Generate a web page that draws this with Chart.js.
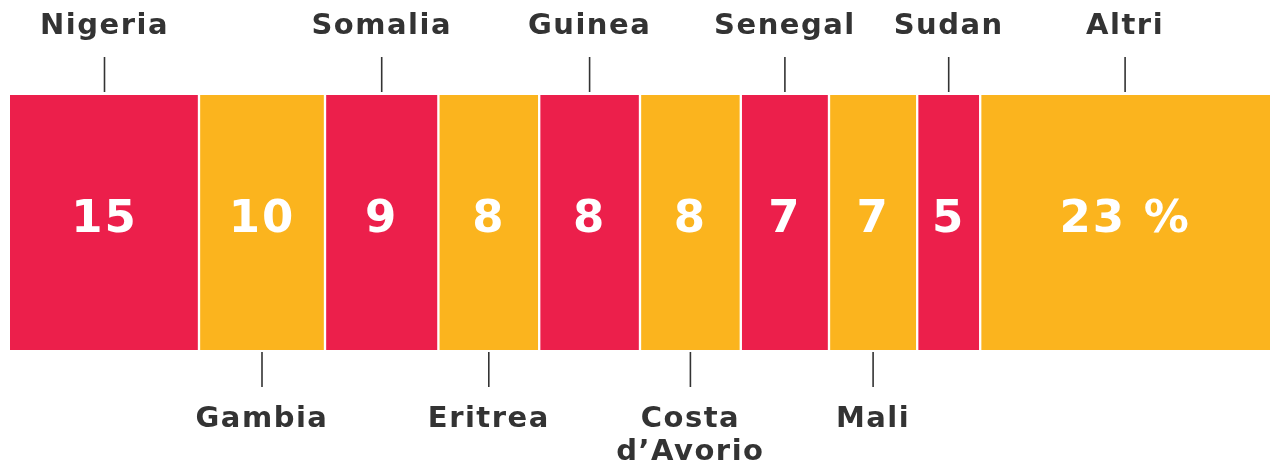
<!DOCTYPE html>
<html>
<head>
<meta charset="utf-8">
<script src="https://cdn.jsdelivr.net/npm/chart.js@4.4.1/dist/chart.umd.min.js"></script>
<style>
  html, body { margin: 0; padding: 0; background: #ffffff; }
  #wrap { width: 1270px; height: 465px; position: relative; }
</style>
</head>
<body>
<div id="wrap"><canvas id="c" width="1270" height="465"></canvas></div>
<script>
const countries = ["Nigeria", "Gambia", "Somalia", "Eritrea", "Guinea", "Costa d\u2019Avorio", "Senegal", "Mali", "Sudan", "Altri"];
const labelLines = [["Nigeria"], ["Gambia"], ["Somalia"], ["Eritrea"], ["Guinea"], ["Costa", "d\u2019Avorio"], ["Senegal"], ["Mali"], ["Sudan"], ["Altri"]];
const values = [15, 10, 9, 8, 8, 8, 7, 7, 5, 23];
const valueLabels = ["15", "10", "9", "8", "8", "8", "7", "7", "5", "23 %"];
const labelSide = ["top", "bottom", "top", "bottom", "top", "bottom", "top", "bottom", "top", "top"];

const RED = "#EC1F4B";
const ORANGE = "#FBB41E";
const TEXT = "#333333";

const datasets = values.map((v, i) => ({
  label: countries[i],
  data: [v],
  backgroundColor: i % 2 === 0 ? RED : ORANGE,
  borderColor: "#ffffff",
  borderWidth: { left: i === 0 ? 0 : 1.5, right: i === values.length - 1 ? 0 : 1.5, top: 0, bottom: 0 },
  borderSkipped: false,
  barPercentage: 1,
  categoryPercentage: 1
}));

const labelPlugin = {
  id: "labelPlugin",
  afterDatasetsDraw(chart) {
    const ctx = chart.ctx;
    ctx.save();
    chart.data.datasets.forEach((ds, i) => {
      const el = chart.getDatasetMeta(i).data[0];
      const left = Math.min(el.x, el.base), right = Math.max(el.x, el.base);
      const cx = (left + right) / 2;
      const top = el.y - el.height / 2, bottom = el.y + el.height / 2;
      // value inside
      ctx.fillStyle = "#ffffff";
      ctx.font = "bold 45px 'DejaVu Sans'";
      ctx.letterSpacing = "2px";
      ctx.textAlign = "center";
      ctx.textBaseline = "alphabetic";
      ctx.fillText(valueLabels[i], cx, 232);
      // pointer line
      ctx.strokeStyle = TEXT;
      ctx.lineWidth = 1.6;
      ctx.beginPath();
      if (labelSide[i] === "top") {
        ctx.moveTo(cx, top - 38); ctx.lineTo(cx, top - 3);
      } else {
        ctx.moveTo(cx, bottom + 2); ctx.lineTo(cx, bottom + 37);
      }
      ctx.stroke();
      // name label
      ctx.fillStyle = TEXT;
      ctx.font = "bold 29px 'DejaVu Sans'";
      ctx.letterSpacing = "1.5px";
      const lines = labelLines[i];
      lines.forEach((ln, k) => {
        const y = labelSide[i] === "top" ? 34 : 427 + k * 33;
        ctx.fillText(ln, cx, y);
      });
    });
    ctx.restore();
  }
};

new Chart(document.getElementById("c"), {
  type: "bar",
  data: { labels: ["Paesi"], datasets },
  options: {
    indexAxis: "y",
    responsive: false,
    animation: false,
    layout: { padding: { left: 10, right: 0, top: 95, bottom: 115 } },
    scales: {
      x: { stacked: true, min: 0, max: 100, display: false },
      y: { stacked: true, display: false }
    },
    plugins: { legend: { display: false }, tooltip: { enabled: false } }
  },
  plugins: [labelPlugin]
});
</script>
</body>
</html>
